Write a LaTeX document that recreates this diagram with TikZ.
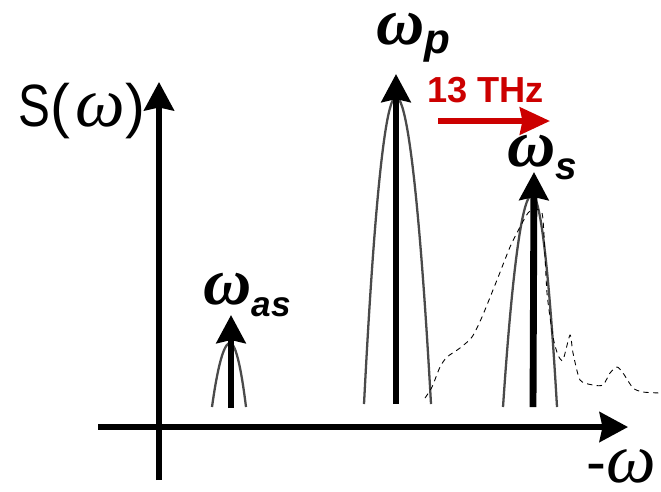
\documentclass[tikz,border=0pt]{standalone}
\usepackage{graphicx}
\usepackage{fontspec}
\setmainfont{Liberation Sans}
\newfontfamily\omegafont{Liberation Serif}
\usetikzlibrary{arrows.meta}
\definecolor{shiftcolor}{HTML}{CC0000}
\definecolor{peakcolor}{HTML}{4A4A4A}
\tikzset{
  spec axis/.style={line width=2.9pt,-{Stealth[length=0.57cm,width=0.6cm,inset=0.06cm]}},
  spec line/.style={line width=3.9pt,-{Stealth[length=0.56cm,width=0.58cm,inset=0.06cm]}},
  spec peak/.style={peakcolor,line width=1.3pt},
  spec noise/.style={line width=0.5pt,dash pattern=on 3pt off 2.5pt},
  spec shift/.style={shiftcolor,line width=3.3pt,-{Stealth[length=0.6cm,width=0.54cm,inset=0.05cm]}},
  spec label/.style={anchor=base west,inner sep=0pt}
}
\newcommand{\freqlabel}[3]{{\fontsize{38}{38}\selectfont\omegafont\bfseries\itshape ω}\raisebox{-#1}{\fontsize{#2}{#2}\selectfont\bfseries\itshape #3}}
\newcommand{\axisomega}{{\fontsize{40}{40}\selectfont\omegafont\itshape ω}}

\begin{document}
\begin{tikzpicture}[x=0.02cm,y=-0.02cm]
  \useasboundingbox (0,0) rectangle (661,491);
  \coordinate (origin left) at (98,427);
  \coordinate (origin right) at (628,427);
  \coordinate (origin low) at (159,480);
  \coordinate (origin top) at (159,82);
  \draw[spec axis] (origin left) -- (origin right);
  \draw[spec axis] (origin low) -- (origin top);
  \node[spec label] (ylab) at (18,126) {\fontsize{34}{34}\selectfont \scalebox{0.8}[1]{S}(\hspace{3pt}\axisomega)};
  \node[spec label] (xlab) at (586,482) {\fontsize{34}{34}\selectfont -\axisomega};
  \draw[spec peak] (212,407) parabola bend (230,343) (246,407);
  \draw[spec peak] (364,404) parabola bend (396,97) (431,404);
  \draw[spec peak] (503,407) parabola bend (532,195) (557,407);
  \draw[spec noise] plot[smooth,tension=0.4] coordinates {(425,398) (432,387) (440,367) (447,357) (460,348) (472,337) (482,317) (497,280) (510,247) (520,227) (528,213) (535,209) (542,213) (544,235) (547,293) (553,337) (558,355) (563,360) (570,335) (573,353) (580,380) (593,385) (603,385) (610,373) (617,367) (623,373) (633,388) (643,392) (660,393)};
  \coordinate (as base) at (231,408);
  \coordinate (as tip) at (231,315);
  \coordinate (p base) at (396,404);
  \coordinate (p tip) at (396,74);
  \coordinate (s base) at (533,407);
  \coordinate (s tip) at (534,172);
  \draw[spec line] (as base) -- (as tip);
  \draw[spec line] (p base) -- (p tip);
  \draw[spec line] (s base) -- (s tip);
  \node[spec label] (wp) at (376,44) {\freqlabel{0.18cm}{24}{p}};
  \node[spec label] (ws) at (507,166) {\freqlabel{0.26cm}{22}{s}};
  \node[spec label] (was) at (203,304) {\freqlabel{0.24cm}{20}{as}};
  \node[spec label,text=shiftcolor] (shift) at (427,102) {\fontsize{20.6}{20.6}\selectfont\bfseries 13 THz};
  \coordinate (shift from) at (438,121);
  \coordinate (shift to) at (550,121);
  \draw[spec shift] (shift from) -- (shift to);
\end{tikzpicture}
\end{document}
